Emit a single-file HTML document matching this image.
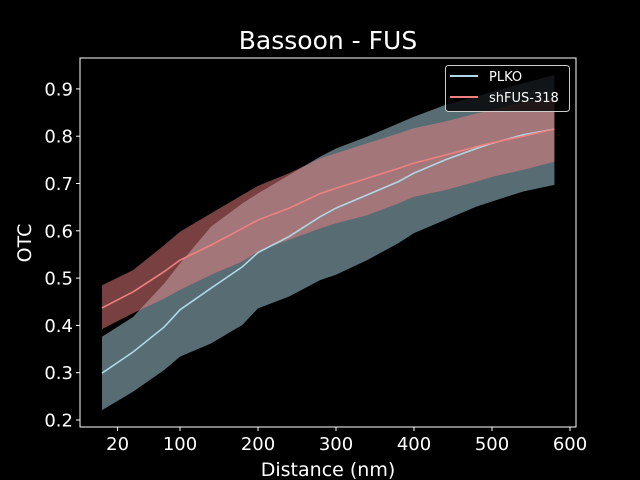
<!DOCTYPE html>
<html><head><meta charset="utf-8"><style>
body{margin:0;background:#000;}
svg{display:block;font-family:"DejaVu Sans","Liberation Sans",sans-serif;}
</style></head><body>
<svg id="chart" width="640" height="480">
<rect width="640" height="480" fill="#000"/>
<g id="plot"></g>
</svg>
<script>
const distances=[0,40,80,100,140,180,200,240,280,300,340,380,400,440,480,500,540,580];
const plkoMean=[.299,.344,.397,.433,.479,.524,.554,.588,.630,.648,.676,.704,.722,.750,.774,.785,.803,.815];
const plkoLow=[.221,.260,.306,.334,.362,.401,.436,.461,.496,.507,.538,.574,.595,.623,.651,.662,.683,.697];
const plkoHigh=[.376,.418,.489,.531,.609,.658,.679,.718,.757,.774,.799,.827,.841,.866,.884,.894,.912,.929];
const fusMean=[.437,.471,.514,.538,.570,.605,.623,.648,.679,.690,.711,.732,.743,.760,.778,.786,.800,.815];
const fusLow=[.392,.426,.457,.475,.507,.535,.556,.581,.605,.616,.633,.658,.672,.686,.704,.714,.729,.746];
const fusHigh=[.485,.517,.570,.598,.637,.676,.695,.722,.753,.764,.785,.806,.817,.831,.848,.855,.873,.880];
const xTicks=[20,100,200,300,400,500,600];
const yTicks=[0.2,0.3,0.4,0.5,0.6,0.7,0.8,0.9];

const NS="http://www.w3.org/2000/svg";
const g=document.getElementById('plot');
const X=d=>102+0.78*d;
const Y=v=>420-(v-0.2)*473;
function mk(t,a,p){const e=document.createElementNS(NS,t);for(const k in a)e.setAttribute(k,a[k]);(p||g).appendChild(e);return e;}
function band(lo,hi,fill,name){
  let pts=distances.map((d,i)=>X(d)+','+Y(hi[i]));
  for(let i=distances.length-1;i>=0;i--)pts.push(X(distances[i])+','+Y(lo[i]));
  const e=mk('polygon',{points:pts.join(' '),fill:fill,'fill-opacity':0.5});
  
  
}
function line(m,col,name){
  const e=mk('polyline',{points:distances.map((d,i)=>X(d)+','+Y(m[i])).join(' '),fill:'none',stroke:col,'stroke-width':1.6});
  
  
}
band(plkoLow,plkoHigh,'#add8e6','plko-band');
band(fusLow,fusHigh,'#f08080','shfus-band');
line(plkoMean,'#add8e6','plko-line');
line(fusMean,'#f08080','shfus-line');

const ax=mk('rect',{x:80,y:58,width:496,height:369,fill:'none',stroke:'#fff','stroke-width':1});


xTicks.forEach(t=>{
  const l=mk('line',{x1:X(t),x2:X(t),y1:427,y2:431,stroke:'#fff'});
  
  
  const tx=mk('text',{x:X(t),y:450,fill:'#fff','font-size':18,'text-anchor':'middle'});
  tx.textContent=t;
  
  
});
yTicks.forEach(t=>{
  const l=mk('line',{x1:76,x2:80,y1:Y(t),y2:Y(t),stroke:'#fff'});
  
  
  const tx=mk('text',{x:73,y:Y(t)+6.5,fill:'#fff','font-size':18,'text-anchor':'end'});
  tx.textContent=t.toFixed(1);
  
  
});
</script>
<svg style="position:absolute;left:0;top:0" width="640" height="480">
<text x="328" y="49" fill="#fff" font-size="25" text-anchor="middle" font-family="DejaVu Sans,sans-serif">Bassoon - FUS</text>
<text x="328" y="476" fill="#fff" font-size="19" text-anchor="middle" font-family="DejaVu Sans,sans-serif">Distance (nm)</text>
<text transform="translate(31,243) rotate(-90)" fill="#fff" font-size="19" text-anchor="middle" font-family="DejaVu Sans,sans-serif">OTC</text>
<g>
<rect x="445.5" y="65.5" width="124" height="46" rx="3" fill="#000" fill-opacity="0.8" stroke="#ccc"/>
<line x1="450" x2="478" y1="76" y2="76" stroke="#add8e6" stroke-width="2"/>
<text x="489" y="81" fill="#fff" font-size="13" font-family="DejaVu Sans,sans-serif">PLKO</text>
<line x1="450" x2="478" y1="97" y2="97" stroke="#f08080" stroke-width="2"/>
<text x="489" y="102" fill="#fff" font-size="13" font-family="DejaVu Sans,sans-serif">shFUS-318</text>
</g>
</svg>
</body></html>
